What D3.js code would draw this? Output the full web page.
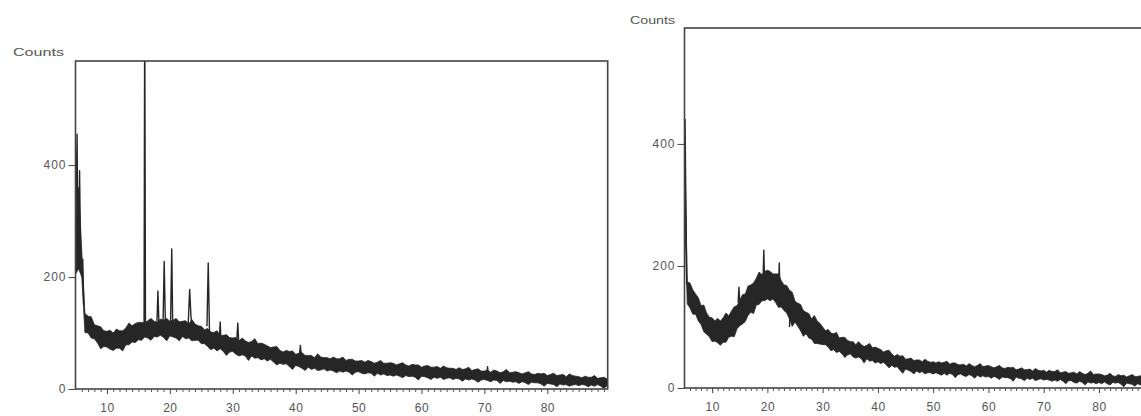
<!DOCTYPE html>
<html>
<head>
<meta charset="utf-8">
<script src="https://cdnjs.cloudflare.com/ajax/libs/d3/7.8.5/d3.min.js"></script>
<style>
body { margin: 0; background: #fff; }
svg { display: block; font-family: "Liberation Sans", Arial, sans-serif; }
</style>
</head>
<body>
<div id="chart"></div>
<script>
// tick labels
const xTickLabels = [10, 20, 30, 40, 50, 60, 70, 80];
const yTickLabels = [0, 200, 400];

// 2theta grid, 5 to 90 deg every 0.5 deg (171 points)
const twoTheta = d3.range(5, 90.25, 0.5);

// left pattern: lower / upper edge of the noisy trace
const leftLow = [
  205, 215, 200, 101, 100, 91, 90, 82, 72, 76,
  75, 71, 69, 73, 73, 68, 79, 79, 84, 83,
  88, 87, 93, 91, 87, 94, 93, 96, 92, 86,
  95, 93, 91, 86, 94, 90, 91, 86, 87, 87,
  81, 81, 76, 70, 73, 68, 72, 67, 60, 66,
  67, 62, 59, 61, 59, 51, 59, 55, 56, 52,
  54, 50, 53, 48, 43, 46, 44, 45, 40, 35,
  42, 40, 37, 33, 39, 35, 37, 33, 34, 36,
  32, 34, 32, 29, 32, 30, 32, 30, 25, 30,
  31, 28, 27, 29, 28, 23, 28, 25, 27, 24,
  25, 23, 25, 23, 20, 24, 22, 23, 21, 16,
  23, 22, 20, 17, 21, 19, 21, 17, 19, 20,
  17, 19, 18, 14, 18, 16, 18, 16, 12, 16,
  17, 15, 13, 16, 15, 10, 15, 13, 14, 12,
  13, 10, 13, 11, 8, 12, 11, 11, 9, 5,
  10, 9, 8, 4, 9, 7, 8, 5, 7, 8,
  6, 8, 7, 4, 7, 5, 8, 5, 1, 6,
  4
];
const leftHigh = [
  300, 360, 245, 135, 130, 129, 115, 113, 111, 104,
  103, 105, 100, 107, 104, 104, 109, 118, 113, 117,
  119, 119, 118, 122, 126, 121, 119, 125, 123, 126,
  121, 123, 126, 120, 121, 122, 116, 124, 116, 113,
  112, 106, 108, 102, 101, 104, 95, 96, 97, 92,
  91, 92, 86, 91, 86, 83, 85, 90, 81, 82,
  80, 77, 74, 75, 76, 69, 66, 69, 67, 68,
  62, 64, 65, 60, 60, 60, 56, 63, 57, 56,
  56, 54, 57, 54, 54, 57, 51, 53, 53, 50,
  50, 51, 48, 51, 49, 46, 48, 51, 46, 46,
  47, 46, 43, 45, 47, 43, 41, 44, 43, 43,
  39, 41, 42, 39, 39, 40, 37, 41, 38, 37,
  37, 35, 38, 35, 36, 39, 33, 35, 36, 32,
  32, 34, 30, 34, 32, 29, 31, 35, 29, 30,
  31, 29, 27, 29, 31, 27, 26, 28, 27, 28,
  24, 26, 28, 24, 25, 26, 22, 27, 24, 23,
  22, 20, 23, 21, 21, 24, 19, 20, 21, 18,
  18
];

// sharp reflections of the left pattern, each a short run of [2theta, counts]
const leftPeaks = [
  [[5.05, 300], [5.25, 455], [5.4, 230]],
  [[5.5, 260], [5.65, 390], [5.8, 240]],
  [[6.0, 200], [6.15, 232], [6.3, 150]],
  [[15.9, 115], [16.0, 700], [16.06, 435], [16.12, 115]],
  [[17.9, 100], [18.1, 175], [18.3, 104]],
  [[18.9, 108], [19.1, 228], [19.3, 108]],
  [[20.1, 110], [20.3, 250], [20.45, 112]],
  [[22.9, 112], [23.15, 178], [23.35, 130], [23.6, 104]],
  [[25.9, 112], [26.1, 225], [26.3, 102]],
  [[27.9, 95], [28.0, 120], [28.1, 92]],
  [[30.6, 80], [30.8, 118], [31.0, 72]],
  [[40.6, 60], [40.75, 78], [40.9, 58]],
  [[70.4, 28], [70.5, 40], [70.6, 28]]
];

// right pattern (amorphous hump)
const rightLow = [
  300, 138, 131, 121, 121, 110, 104, 92, 88, 84,
  76, 77, 74, 70, 75, 75, 83, 85, 84, 97,
  102, 105, 109, 119, 124, 122, 136, 137, 143, 143,
  146, 143, 146, 140, 132, 133, 127, 123, 113, 101,
  108, 101, 94, 85, 89, 82, 80, 73, 73, 72,
  71, 71, 67, 61, 63, 58, 60, 56, 50, 54,
  56, 51, 49, 51, 48, 41, 48, 44, 45, 41,
  43, 40, 42, 38, 33, 37, 34, 35, 29, 24,
  31, 29, 27, 23, 28, 25, 27, 23, 25, 25,
  23, 25, 23, 21, 24, 21, 24, 22, 17, 22,
  23, 20, 19, 22, 20, 16, 21, 18, 20, 18,
  19, 16, 19, 17, 14, 18, 17, 17, 15, 11,
  18, 16, 15, 12, 16, 14, 16, 12, 14, 15,
  13, 14, 13, 11, 13, 11, 14, 11, 7, 12,
  12, 9, 8, 11, 9, 5, 10, 8, 9, 7,
  9, 7, 10, 7, 5, 9, 8, 9, 6, 2,
  8, 7, 6, 3, 7, 5, 7, 4, 6, 7,
  6
];
const rightHigh = [
  420, 174, 172, 161, 154, 148, 135, 136, 123, 116,
  115, 110, 114, 110, 115, 123, 118, 126, 133, 135,
  144, 153, 154, 167, 169, 172, 180, 190, 186, 191,
  193, 191, 187, 187, 187, 176, 169, 168, 160, 157,
  142, 139, 137, 127, 124, 122, 113, 119, 110, 106,
  100, 94, 96, 90, 89, 91, 82, 83, 83, 78,
  76, 76, 71, 76, 71, 68, 70, 73, 66, 67,
  65, 63, 59, 61, 62, 56, 52, 55, 52, 53,
  47, 48, 49, 45, 46, 46, 43, 47, 44, 42,
  43, 41, 43, 41, 42, 44, 39, 41, 41, 38,
  38, 39, 36, 40, 37, 35, 37, 40, 35, 36,
  37, 35, 33, 35, 37, 33, 32, 34, 33, 34,
  30, 31, 33, 30, 30, 31, 28, 32, 29, 28,
  29, 26, 29, 27, 27, 30, 25, 26, 27, 24,
  25, 26, 23, 27, 24, 22, 24, 28, 22, 23,
  23, 22, 20, 21, 24, 20, 19, 22, 20, 21,
  18, 20, 22, 19, 19, 20, 17, 22, 19, 18,
  18
];

const rightPeaks = [
  [[5.0, 400], [5.1, 440], [5.25, 300], [5.4, 170]],
  [[14.7, 140], [14.85, 165], [15.0, 140]],
  [[19.2, 170], [19.35, 226], [19.5, 170]],
  [[22.0, 160], [22.15, 205], [22.3, 150]],
  [[24.0, 100], [24.2, 150], [24.4, 110]]
];

const svg = d3.select("#chart")
  .append("svg")
    .attr("width", 1141)
    .attr("height", 416);

// the scan is a little soft in the source
svg.append("defs")
  .append("filter")
    .attr("id", "soft")
  .append("feGaussianBlur")
    .attr("stdDeviation", 0.45);

function drawPanel(p) {
  const x = d3.scaleLinear().domain([5, 89.6]).range([p.left, p.right]);
  const y = d3.scaleLinear().domain([0, p.yMax]).range([p.bottom, p.top]);

  const g = svg.append("g");

  g.append("clipPath")
    .attr("id", p.id + "-clip")
    .append("rect")
      .attr("x", p.left)
      .attr("y", p.top)
      .attr("width", p.right - p.left)
      .attr("height", p.bottom - p.top);

  const plot = g.append("g")
    .attr("clip-path", `url(#${p.id}-clip)`)
    .append("g")
      .attr("filter", "url(#soft)");

  // noisy trace drawn as the band between its lower and upper edge
  const band = twoTheta.map((t, i) => ({ t: t, lo: p.low[i], hi: p.high[i] }));
  const area = d3.area()
    .x(d => x(d.t))
    .y0(d => y(d.lo))
    .y1(d => y(d.hi));

  plot.append("path")
    .datum(band)
    .attr("fill", "#262626")
    .attr("stroke", "#262626")
    .attr("stroke-width", 0.8)
    .attr("stroke-linejoin", "round")
    .attr("d", area);

  // sharp peaks
  const line = d3.line()
    .x(d => x(d[0]))
    .y(d => y(d[1]));

  plot.selectAll(".peak")
    .data(p.peaks)
    .enter().append("path")
      .attr("class", "peak")
      .attr("fill", "none")
      .attr("stroke", "#262626")
      .attr("stroke-width", 1.4)
      .attr("stroke-linejoin", "round")
      .attr("d", line);

  // frame
  g.append("rect")
    .attr("x", p.left)
    .attr("y", p.top)
    .attr("width", p.right - p.left)
    .attr("height", p.bottom - p.top)
    .attr("fill", "none")
    .attr("stroke", "#444")
    .attr("stroke-width", 1.6);

  // minor x ticks every degree
  const minor = d3.range(6, 90, 1).filter(v => v % 10 !== 0);
  g.append("g")
    .attr("transform", `translate(0,${p.bottom})`)
    .call(d3.axisBottom(x).tickValues(minor).tickSize(3).tickFormat(""))
    .call(a => a.select(".domain").remove())
    .call(a => a.selectAll("line").attr("stroke", "#555"));

  // major x ticks
  g.append("g")
    .attr("transform", `translate(0,${p.bottom})`)
    .call(d3.axisBottom(x).tickValues(xTickLabels).tickSize(5).tickPadding(9))
    .call(a => a.select(".domain").remove())
    .call(a => a.selectAll("line").attr("stroke", "#444"))
    .call(a => a.selectAll("text")
      .attr("fill", "#555")
      .style("font-size", "12px")
      .style("letter-spacing", "0.5px"));

  // y ticks
  g.append("g")
    .attr("transform", `translate(${p.left},0)`)
    .call(d3.axisLeft(y).tickValues(yTickLabels).tickSize(7).tickPadding(2))
    .call(a => a.select(".domain").remove())
    .call(a => a.selectAll("line").attr("stroke", "#444"))
    .call(a => a.selectAll("text")
      .attr("fill", "#555")
      .style("font-size", "12px")
      .style("letter-spacing", "1px"));

  // axis title
  g.append("text")
    .attr("x", p.labelX)
    .attr("y", p.labelY)
    .attr("fill", "#555")
    .attr("textLength", p.labelW)
    .attr("lengthAdjust", "spacingAndGlyphs")
    .style("font-size", "11px")
    .text("Counts");
}

drawPanel({
  id: "left", low: leftLow, high: leftHigh, peaks: leftPeaks,
  left: 75.5, right: 607.7, top: 61, bottom: 389, yMax: 586,
  labelX: 13, labelY: 56, labelW: 51
});

drawPanel({
  id: "right", low: rightLow, high: rightHigh, peaks: rightPeaks,
  left: 684.5, right: 1152, top: 28, bottom: 388, yMax: 590,
  labelX: 630, labelY: 24, labelW: 45
});
</script>
</body>
</html>
